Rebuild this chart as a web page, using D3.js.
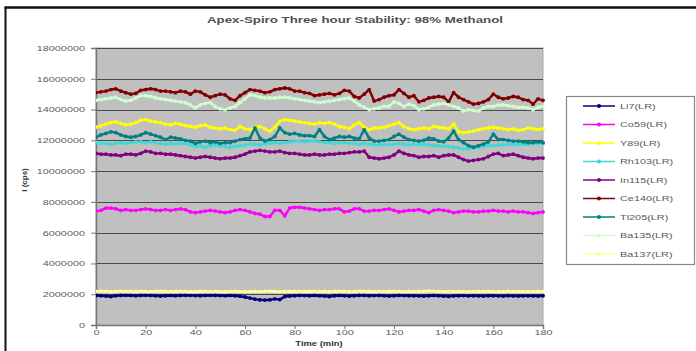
<!DOCTYPE html>
<html>
<head>
<meta charset="utf-8">
<script src="https://cdn.jsdelivr.net/npm/d3@7"></script>
<style>
  html, body { margin: 0; padding: 0; background: #fff; }
  svg { display: block; font-family: "Liberation Sans", Arial, sans-serif; }
</style>
</head>
<body>
<svg id="chart" width="696" height="351"></svg>
<script>
// ---- data (values in millions of counts, sampled every 2 minutes, 0..180) ----
const title = "Apex-Spiro Three hour Stability: 98% Methanol";
const xLabel = "Time (min)";
const yLabel = "I (cps)";
const xTicks = [0, 20, 40, 60, 80, 100, 120, 140, 160, 180];
const yTicks = [0, 2000000, 4000000, 6000000, 8000000, 10000000, 12000000, 14000000, 16000000, 18000000];
const seriesNames = ["Li7(LR)", "Co59(LR)", "Y89(LR)", "Rh103(LR)", "In115(LR)", "Ce140(LR)", "Tl205(LR)", "Ba135(LR)", "Ba137(LR)"];
const seriesColors = ["#000080", "#ff00ff", "#ffff00", "#40d8d8", "#800080", "#800000", "#008080", "#ccffcc", "#ffff99"];
const minutes = d3.range(0, 181, 2);

const li7 = [
  1.92,1.90,1.88,1.85,1.90,1.92,1.93,1.92,1.90,1.92,
  1.93,1.92,1.90,1.88,1.90,1.92,1.90,1.92,1.93,1.92,
  1.91,1.90,1.92,1.93,1.92,1.91,1.90,1.92,1.90,1.87,
  1.82,1.75,1.68,1.63,1.62,1.63,1.70,1.65,1.85,1.88,
  1.90,1.92,1.91,1.90,1.92,1.90,1.88,1.85,1.90,1.92,
  1.90,1.88,1.90,1.92,1.92,1.90,1.91,1.92,1.90,1.88,
  1.90,1.92,1.91,1.90,1.90,1.89,1.88,1.90,1.92,1.90,
  1.88,1.86,1.89,1.90,1.91,1.89,1.90,1.89,1.88,1.90,
  1.90,1.89,1.88,1.90,1.89,1.88,1.89,1.90,1.89,1.88,
  1.90];
const co59 = [
  7.40,7.45,7.60,7.60,7.55,7.45,7.50,7.45,7.45,7.50,
  7.55,7.50,7.45,7.45,7.50,7.45,7.50,7.55,7.50,7.35,
  7.30,7.35,7.40,7.45,7.40,7.35,7.30,7.35,7.45,7.50,
  7.45,7.35,7.25,7.20,7.05,7.05,7.45,7.45,7.10,7.60,
  7.65,7.65,7.60,7.55,7.50,7.45,7.50,7.50,7.55,7.55,
  7.35,7.40,7.55,7.55,7.40,7.40,7.45,7.45,7.50,7.55,
  7.45,7.35,7.40,7.45,7.45,7.50,7.40,7.30,7.45,7.50,
  7.45,7.40,7.30,7.35,7.40,7.40,7.35,7.35,7.40,7.40,
  7.45,7.40,7.40,7.35,7.40,7.35,7.35,7.30,7.25,7.30,
  7.35];
const y89 = [
  12.85,12.95,13.05,13.15,13.20,13.10,13.00,13.05,13.15,13.30,
  13.35,13.25,13.20,13.15,13.05,13.00,13.10,13.05,12.95,12.90,
  12.85,12.95,13.00,12.85,12.80,12.75,12.80,12.70,12.65,12.90,
  12.75,12.70,12.85,12.90,12.75,12.60,12.85,13.25,13.35,13.30,
  13.25,13.20,13.15,13.10,13.05,13.15,13.10,13.15,13.05,12.90,
  12.85,12.75,13.00,13.15,12.85,12.70,12.80,12.80,12.85,12.95,
  13.05,13.15,12.90,12.75,12.70,12.75,12.80,12.75,12.90,12.85,
  12.80,12.75,13.05,12.55,12.50,12.55,12.60,12.70,12.75,12.80,
  12.85,12.80,12.75,12.70,12.75,12.65,12.70,12.80,12.75,12.70,
  12.75];
const rh103 = [
  11.85,11.80,11.80,11.75,11.80,11.85,11.80,11.85,11.90,11.90,
  11.85,11.90,11.85,11.80,11.75,11.80,11.75,11.80,11.80,11.70,
  11.60,11.65,11.55,11.65,11.70,11.65,11.60,11.55,11.60,11.65,
  11.70,11.75,11.75,11.70,11.80,11.80,11.85,11.80,11.85,11.90,
  11.95,11.95,11.90,11.95,11.95,11.90,11.85,11.85,11.80,11.85,
  11.85,11.80,11.80,11.75,11.80,11.75,11.70,11.70,11.75,11.70,
  11.75,11.80,11.75,11.70,11.75,11.70,11.75,11.70,11.65,11.65,
  11.60,11.60,11.55,11.50,11.45,11.45,11.50,11.55,11.60,11.65,
  11.65,11.70,11.70,11.75,11.75,11.70,11.75,11.75,11.80,11.80,
  11.80];
const in115 = [
  11.15,11.10,11.10,11.05,11.05,11.00,11.10,11.10,11.05,11.15,
  11.30,11.25,11.15,11.15,11.10,11.10,11.05,11.00,10.95,10.90,
  10.85,10.90,10.95,10.90,10.85,10.80,10.85,10.85,10.90,11.00,
  11.10,11.25,11.30,11.35,11.30,11.25,11.25,11.30,11.20,11.15,
  11.15,11.10,11.05,11.05,11.10,11.05,11.05,11.10,11.10,11.15,
  11.15,11.20,11.25,11.25,11.30,10.90,10.85,10.80,10.85,10.90,
  11.05,11.30,11.15,11.05,11.00,10.90,10.95,10.95,11.00,10.90,
  11.00,11.05,11.05,10.90,10.75,10.65,10.70,10.75,10.80,10.95,
  11.10,11.15,11.00,11.05,11.10,11.00,10.90,10.85,10.80,10.85,
  10.85];
const ce140 = [
  15.10,15.15,15.20,15.30,15.35,15.20,15.10,15.00,15.05,15.25,
  15.30,15.35,15.30,15.20,15.20,15.15,15.10,15.20,15.15,15.00,
  15.20,15.15,14.95,14.80,14.90,15.00,14.95,14.70,14.60,14.90,
  15.10,15.30,15.25,15.20,15.10,15.15,15.30,15.35,15.40,15.35,
  15.20,15.20,15.10,15.05,14.90,14.95,15.00,15.05,14.95,15.05,
  15.25,15.20,14.85,14.75,15.00,15.30,14.55,14.65,14.80,14.90,
  14.95,15.30,15.05,14.80,14.90,14.50,14.60,14.75,14.80,14.85,
  14.80,14.50,15.10,14.80,14.65,14.50,14.35,14.40,14.50,14.65,
  15.00,14.80,14.70,14.75,14.85,14.80,14.65,14.60,14.35,14.70,
  14.60];
const tl205 = [
  12.20,12.35,12.45,12.55,12.50,12.35,12.25,12.20,12.25,12.35,
  12.50,12.40,12.30,12.20,12.05,12.20,12.15,12.10,12.00,11.95,
  11.80,11.90,11.95,11.85,11.90,11.80,11.85,11.85,11.95,12.05,
  12.10,12.15,12.80,12.15,11.95,12.05,12.25,12.80,12.50,12.40,
  12.45,12.35,12.30,12.30,12.25,12.70,12.25,12.05,12.15,12.25,
  12.20,12.25,12.15,12.10,12.70,12.15,11.95,11.95,12.00,12.05,
  12.25,12.40,12.20,12.05,12.00,11.95,12.00,12.15,12.10,11.95,
  11.90,12.15,12.60,12.05,11.85,11.65,11.55,11.65,11.75,11.90,
  12.40,12.05,12.05,12.00,11.95,11.95,11.90,11.85,11.85,11.90,
  11.85];
const ba135 = [
  14.60,14.65,14.70,14.75,14.80,14.65,14.55,14.60,14.75,14.90,
  14.90,14.85,14.75,14.70,14.65,14.60,14.55,14.50,14.45,14.30,
  14.10,14.30,14.40,14.45,14.20,14.05,14.00,14.10,14.20,14.45,
  14.70,14.95,14.90,14.80,14.75,14.75,14.75,14.80,14.80,14.75,
  14.70,14.65,14.60,14.55,14.50,14.45,14.50,14.55,14.60,14.65,
  14.70,14.75,14.55,14.30,14.15,14.00,14.05,14.10,14.20,14.20,
  14.50,14.40,14.20,14.35,14.25,14.00,14.05,14.15,14.30,14.35,
  14.40,14.30,14.20,14.10,13.90,14.00,13.95,13.90,14.10,14.20,
  14.20,14.30,14.30,14.25,14.20,14.15,14.15,14.10,14.00,14.15,
  14.20];
const ba137 = [
  2.18,2.20,2.19,2.17,2.18,2.20,2.19,2.18,2.17,2.19,
  2.18,2.17,2.19,2.20,2.18,2.17,2.18,2.19,2.18,2.16,
  2.17,2.19,2.18,2.17,2.18,2.17,2.16,2.17,2.18,2.17,
  2.16,2.17,2.18,2.17,2.19,2.20,2.18,2.17,2.18,2.19,
  2.18,2.17,2.18,2.19,2.18,2.17,2.18,2.17,2.18,2.19,
  2.18,2.17,2.18,2.20,2.19,2.18,2.17,2.18,2.17,2.18,
  2.19,2.18,2.17,2.18,2.17,2.18,2.19,2.21,2.19,2.18,
  2.17,2.18,2.17,2.18,2.17,2.16,2.17,2.18,2.17,2.18,
  2.17,2.16,2.17,2.18,2.17,2.18,2.17,2.16,2.17,2.18,
  2.17];
const seriesValues = [li7, co59, y89, rh103, in115, ce140, tl205, ba135, ba137];

// ---- layout ----
const svg = d3.select("#chart");
const plot = { left: 96, right: 543, top: 48, bottom: 325 };
const sx = 1.45; // horizontal stretch of the original lettering
const textColor = "#5a5a5a";

const x = d3.scaleLinear().domain([0, 180]).range([plot.left, plot.right]);
const y = d3.scaleLinear().domain([0, 18000000]).range([plot.bottom, plot.top]);

// outer frame (left and top rules)
svg.append("line").attr("x1", 5.5).attr("x2", 5.5).attr("y1", 7).attr("y2", 351)
  .attr("stroke", "#111").attr("stroke-width", 2);
svg.append("line").attr("x1", 4.5).attr("x2", 696).attr("y1", 7.5).attr("y2", 7.5)
  .attr("stroke", "#111").attr("stroke-width", 2.5);

// title
svg.append("text").attr("x", 355).attr("y", 23).attr("text-anchor", "middle")
  .attr("font-size", 8.5).attr("font-weight", "bold").attr("fill", "#505050")
  .attr("textLength", 296).attr("lengthAdjust", "spacingAndGlyphs")
  .text(title);

// plot background
svg.append("rect").attr("x", plot.left).attr("y", plot.top)
  .attr("width", plot.right - plot.left).attr("height", plot.bottom - plot.top)
  .attr("fill", "#c0c0c0").attr("stroke", "#a8a8a8").attr("stroke-width", 1);

// gridlines
svg.append("g").selectAll("line").data(yTicks.filter(d => d > 0)).join("line")
  .attr("x1", plot.left).attr("x2", plot.right)
  .attr("y1", d => Math.round(y(d)) + 0.5).attr("y2", d => Math.round(y(d)) + 0.5)
  .attr("stroke", "#4a4a4a").attr("stroke-width", 1);

// axes
const yAxis = svg.append("g").attr("transform", `translate(${plot.left},0)`)
  .call(d3.axisLeft(y).tickValues(yTicks).tickSize(5).tickFormat(d3.format("d")));
const xAxis = svg.append("g").attr("transform", `translate(0,${plot.bottom})`)
  .call(d3.axisBottom(x).tickValues(xTicks).tickSize(4).tickFormat(d3.format("d")));
[yAxis, xAxis].forEach(a => {
  a.select(".domain").attr("stroke", "#777").attr("stroke-width", 1.5);
  a.selectAll(".tick line").attr("stroke", "#777");
  a.selectAll("text").attr("font-size", 7.5).attr("fill", textColor)
    .attr("font-family", "Liberation Sans, Arial, sans-serif");
});
yAxis.selectAll("text").attr("x", -11 / sx).attr("transform", `scale(${sx},1)`);
xAxis.selectAll("text").attr("y", 10.5).attr("dy", 0).attr("transform", `scale(${sx},1)`)
  .attr("x", 0);

// axis titles
svg.append("text").attr("transform", `translate(${plot.left + 223},346) scale(${sx},1)`)
  .attr("text-anchor", "middle").attr("font-size", 6.5).attr("font-weight", "bold")
  .attr("fill", "#333").text(xLabel);
svg.append("text").attr("transform", "translate(27,180) rotate(-90)")
  .attr("text-anchor", "middle").attr("font-size", 8).attr("font-weight", "bold")
  .attr("fill", "#333").text(yLabel);

// series
svg.append("clipPath").attr("id", "plotclip").append("rect")
  .attr("x", plot.left).attr("y", plot.top).attr("width", plot.right - plot.left + 2).attr("height", plot.bottom - plot.top);
const line = d3.line().x((d, i) => x(minutes[i])).y(d => y(d * 1e6));
const gSeries = svg.append("g").attr("clip-path", "url(#plotclip)");
seriesValues.forEach((vals, k) => {
  const g = gSeries.append("g");
  g.append("path").datum(vals).attr("d", line).attr("fill", "none")
    .attr("stroke", seriesColors[k]).attr("stroke-width", 2.4).attr("stroke-linejoin", "round");
  g.selectAll("circle").data(vals).join("circle")
    .attr("cx", (d, i) => x(minutes[i])).attr("cy", d => y(d * 1e6)).attr("r", 1.9)
    .attr("fill", seriesColors[k]);
});

// legend
const leg = { x: 566.5, y: 96.5, w: 128, h: 168 };
svg.append("rect").attr("x", leg.x).attr("y", leg.y).attr("width", leg.w).attr("height", leg.h)
  .attr("fill", "#fff").attr("stroke", "#888").attr("stroke-width", 1.2);
const legY = d3.scalePoint().domain(seriesNames).range([106, 254]);
const li = svg.append("g").selectAll("g").data(seriesNames).join("g")
  .attr("transform", d => `translate(0,${legY(d)})`);
li.append("line").attr("x1", 583).attr("x2", 615).attr("stroke", (d, i) => seriesColors[i]).attr("stroke-width", 1.5);
li.append("circle").attr("cx", 599).attr("r", 2).attr("fill", (d, i) => seriesColors[i]);
li.append("text").attr("transform", `translate(620,2.7) scale(${sx},1)`)
  .attr("font-size", 7.5).attr("fill", textColor).text(d => d);
</script>
</body>
</html>
